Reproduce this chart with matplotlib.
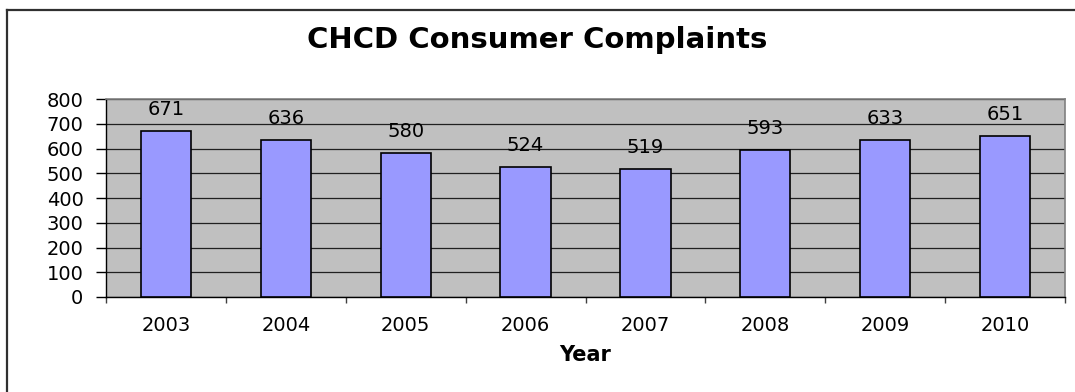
import matplotlib
matplotlib.use("Agg")
import matplotlib.pyplot as plt
from matplotlib.lines import Line2D
import numpy as np

years = ["2003", "2004", "2005", "2006", "2007", "2008", "2009", "2010"]
complaints = [671, 636, 580, 524, 519, 593, 633, 651]
yticks = [0, 100, 200, 300, 400, 500, 600, 700, 800]

plt.rcParams['font.family'] = 'DejaVu Sans'

fig = plt.figure(figsize=(10.75, 3.92), dpi=100)
ax = fig.add_axes([106 / 1075, 1 - 297 / 392, (1065 - 106) / 1075, (297 - 99) / 392])
ax.set_facecolor('#C0C0C0')

x = np.arange(len(years))
bars = ax.bar(x, complaints, width=0.42, color='#9999FF', edgecolor='black',
              linewidth=1.2, zorder=3)

for xi, v in zip(x, complaints):
    ax.annotate(str(v), (xi, v), xytext=(0, 15.5), textcoords='offset points',
                ha='center', va='center', fontsize=14, zorder=4)

ax.set_xlim(-0.5, len(years) - 0.5)
ax.set_ylim(0, 800)
ax.set_yticks(yticks)
ax.tick_params(axis='y', direction='out', length=7.2, width=1, pad=9, labelsize=14)
ax.yaxis.grid(True, color='#202020', linewidth=0.9, zorder=1)
ax.set_axisbelow(True)

# year labels sit under the bars, tick marks sit between categories
ax.set_xticks(x)
ax.set_xticklabels(years)
ax.tick_params(axis='x', which='major', length=0, pad=14, labelsize=14)
ax.set_xticks(np.arange(len(years) + 1) - 0.5, minor=True)
ax.tick_params(axis='x', which='minor', direction='out', length=4.5, width=1,
               color='#404040')

for side in ('top', 'right'):
    ax.spines[side].set_color('#808080')
    ax.spines[side].set_linewidth(1.2)
for side in ('left', 'bottom'):
    ax.spines[side].set_color('black')
    ax.spines[side].set_linewidth(1)

ax.set_xlabel('Year', fontsize=15, fontweight='bold', labelpad=7)
fig.text(0.5, 1 - 40 / 392, 'CHCD Consumer Complaints', ha='center', va='center',
         fontsize=21, fontweight='bold')

# chart border
fig.add_artist(Line2D([7 / 1075, 7 / 1075], [0, 1 - 10 / 392], transform=fig.transFigure,
                      color='#303030', linewidth=1.6))
fig.add_artist(Line2D([7 / 1075, 1], [1 - 10 / 392, 1 - 10 / 392], transform=fig.transFigure,
                      color='#303030', linewidth=1.6))

fig.savefig('out.png', dpi=100)
